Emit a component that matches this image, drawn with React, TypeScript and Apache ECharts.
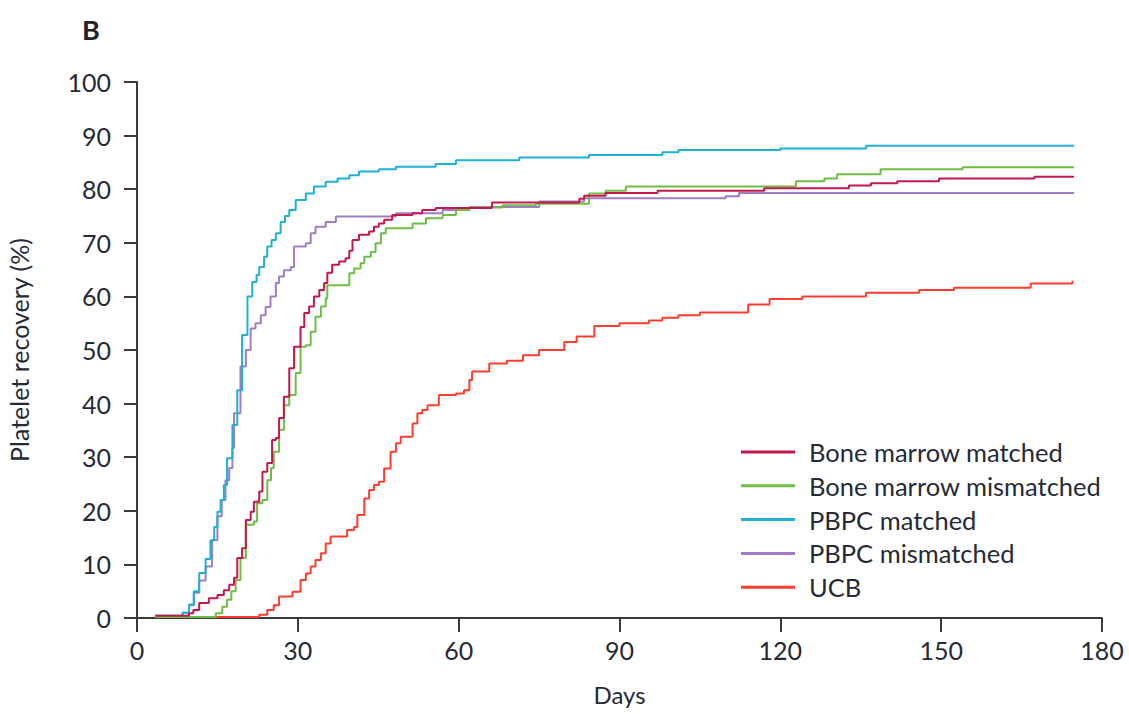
import React, { useEffect, useRef } from "react";
import * as echarts from "echarts";

const xTicks = [0, 30, 60, 90, 120, 150, 180];
const seriesNames = [
  "Bone marrow matched",
  "Bone marrow mismatched",
  "PBPC matched",
  "PBPC mismatched",
  "UCB",
];
const seriesColors = ["#c4184c", "#6fbe44", "#1fb0d5", "#a07cc5", "#ff3d2e"];

const boneMarrowMatched: [number, number][] = [
  [3.4, 0.4], [9.7, 0.9], [10.5, 1.5], [11.6, 2.8], [13.4, 3.7], [15, 4.3], [16.2, 5.2], [17.2, 6.2],
  [18.1, 7.5], [18.7, 11.2], [19.6, 13], [20.3, 18.3], [21.2, 19.8], [21.8, 21.7], [22.8, 23.6],
  [23.4, 27.3], [24.3, 28.9], [25.2, 33.2], [25.9, 33.6], [26.5, 37.3], [27.4, 41.3], [28.4, 46.6],
  [29.3, 50.6], [30.5, 54.3], [31.2, 56.9], [32.1, 58.1], [33, 60], [34, 61.2], [34.9, 62.5],
  [35.5, 64.4], [36.4, 65.9], [37.7, 66.5], [38.9, 67.1], [39.6, 68.5], [40.2, 70.5], [41.4, 71.5],
  [43.3, 72.1], [44.2, 73], [45.1, 73.6], [46.1, 74.3], [47.6, 75.2], [51.4, 75.5], [53.2, 76.1],
  [55.7, 76.5], [66.2, 77.5], [82.5, 78.2], [83.4, 78.8], [87.4, 79.3], [97.1, 79.7], [117, 80.2],
  [132.8, 80.7], [136.9, 81.1], [141.8, 81.5], [149.6, 82], [167.4, 82.3], [174.8, 82.3],
];

const boneMarrowMismatched: [number, number][] = [
  [3.4, 0.2], [14.7, 0.9], [15.9, 2.1], [16.8, 3.4], [17.6, 5], [18.4, 7.1], [19.3, 11.2],
  [20.3, 17.4], [21.8, 18], [22.4, 21.4], [23.4, 22], [24.3, 25.7], [25, 28], [25.5, 31],
  [26.5, 35.1], [27.4, 39.7], [28.4, 41.6], [29.6, 45.7], [30.5, 50.6], [31.5, 50.9], [32.4, 53.4],
  [33.3, 56.2], [34.3, 58.1], [35.2, 59.6], [35.5, 62.1], [39.6, 64.3], [40.5, 65.2], [41.7, 66.2],
  [42.4, 67.4], [43.6, 68.3], [44.5, 69.9], [45.5, 71.8], [46.4, 72.7], [51.4, 73.6], [53.9, 74.6],
  [57, 75.2], [59.5, 76.1], [62, 76.6], [68.2, 77], [74.4, 77.3], [84.3, 79.2], [87.4, 79.7],
  [91.2, 80.5], [122.9, 81.5], [128.2, 82], [130.6, 82.8], [138.7, 83.7], [154, 84.1], [174.8, 84.1],
];

const pbpcMatched: [number, number][] = [
  [3.4, 0.4], [8.5, 1], [9.7, 2.5], [10.6, 5], [11.6, 8.4], [12.8, 11], [13.7, 14.5], [14.4, 17],
  [15, 19.8], [15.6, 22], [16.2, 24.8], [16.8, 29.8], [17.8, 36], [18.7, 42.5], [19.6, 52.8],
  [20.6, 60], [21.5, 62.7], [22.3, 64], [22.8, 65.5], [23.7, 67.4], [24.3, 69.3], [25.1, 70.5],
  [25.9, 71.8], [26.8, 73.9], [27.6, 75], [28.4, 76.1], [29.6, 78], [31.5, 79.2], [33, 80.5],
  [35.2, 81.4], [37.4, 82], [39.6, 82.6], [41.4, 83.3], [45.1, 83.7], [48.3, 84.2], [55.7, 84.7],
  [59.5, 85.4], [71.3, 85.9], [84.3, 86.4], [98, 86.9], [101, 87.3], [120, 87.6], [136, 88.1],
  [174.8, 88.1],
];

const pbpcMismatched: [number, number][] = [
  [3.4, 0.4], [8.5, 1], [9.7, 2.4], [10.6, 4.7], [11.6, 7], [12.8, 9.6], [14, 14.5], [15, 19],
  [15.8, 22], [16.5, 25.7], [17.2, 28], [17.8, 31.7], [18.1, 38.2], [19.3, 46.9], [20.3, 50],
  [21.2, 54], [22.1, 55], [23.1, 56.5], [24, 58], [24.9, 60], [25.9, 62.5], [26.5, 63.7],
  [27.4, 64.9], [28.7, 65.5], [29.3, 69.3], [31.5, 69.9], [32.4, 71.8], [33.3, 73], [35.2, 73.9],
  [37.1, 74.9], [48.3, 75.5], [57, 76.1], [62, 76.7], [75, 77.7], [83.4, 78.3], [109.8, 78.7],
  [112.3, 79.3], [174.8, 79.3],
];

const ucb: [number, number][] = [
  [3.4, 0.2], [22.8, 0.6], [24.3, 1.5], [25.5, 2.4], [26.5, 4], [29, 4.9], [30.5, 7.1], [31.5, 8.3],
  [32.4, 9.6], [33.3, 10.8], [34.3, 12.1], [35.2, 13.9], [36.1, 15.2], [39.2, 16.4], [40.5, 17],
  [41.1, 19.2], [42.4, 22.3], [43.3, 23.9], [44.2, 24.8], [45.1, 25.4], [46.1, 27.9], [47.3, 31],
  [48.3, 32.6], [49.2, 33.8], [51.4, 36.3], [52.3, 38.2], [53.2, 38.8], [54.2, 39.7], [56.3, 41.6],
  [59.5, 41.9], [61, 42.5], [62, 44.4], [62.5, 46], [65.7, 47.5], [69, 48], [72, 49], [75, 50],
  [79.7, 51.5], [82, 52.5], [85.3, 54.5], [90, 55], [95.5, 55.5], [98, 56], [101, 56.5], [105, 57],
  [114, 58.5], [118, 59.5], [124.1, 60], [136, 60.7], [145.9, 61.2], [152.4, 61.6], [166.7, 62.4],
  [174.5, 62.9],
];

const seriesData = [boneMarrowMatched, boneMarrowMismatched, pbpcMatched, pbpcMismatched, ucb];

const FONT = "Lato, 'Open Sans', sans-serif";
const TEXT = "#262a36";

export default function App() {
  const ref = useRef<HTMLDivElement>(null);
  useEffect(() => {
    if (!ref.current) return;
    const chart = echarts.init(ref.current, undefined, { renderer: "svg" });
    chart.setOption({
      animation: false,
      backgroundColor: "#ffffff",
      grid: {
        left: 137,
        right: 27,
        top: 82,
        bottom: 96,
        containLabel: false,
        outerBoundsMode: "none",
      },
      graphic: [
        {
          type: "text",
          left: 82,
          top: 16,
          style: { text: "B", font: `bold 27px ${FONT}`, fill: "#222" },
        },
      ],
      legend: {
        orient: "vertical",
        left: 736,
        top: 434,
        itemWidth: 54,
        itemHeight: 3,
        itemGap: 7.8,
        icon: "rect",
        data: seriesNames,
        textStyle: {
          fontFamily: FONT,
          fontSize: 25.5,
          color: TEXT,
          padding: [0, 0, 0, 9],
        },
      },
      xAxis: {
        type: "value",
        min: 0,
        max: 180,
        interval: 30,
        name: "Days",
        nameLocation: "middle",
        nameGap: 64,
        nameTextStyle: { fontFamily: FONT, fontSize: 24, color: TEXT },
        axisLine: { show: true, lineStyle: { color: "#3a3a3a", width: 2 } },
        axisTick: { show: true, length: 14, lineStyle: { color: "#3a3a3a", width: 2 } },
        axisLabel: {
          fontFamily: FONT,
          fontSize: 25,
          color: TEXT,
          margin: 19,
          formatter: (v: number) => (xTicks.includes(v) ? String(v) : ""),
        },
        splitLine: { show: false },
      },
      yAxis: {
        type: "value",
        min: 0,
        max: 100,
        interval: 10,
        name: "Platelet recovery (%)",
        nameLocation: "middle",
        nameGap: 106,
        nameTextStyle: { fontFamily: FONT, fontSize: 25, color: TEXT },
        axisLine: { show: true, lineStyle: { color: "#3a3a3a", width: 2 } },
        axisTick: { show: true, length: 13, lineStyle: { color: "#3a3a3a", width: 2 } },
        axisLabel: { fontFamily: FONT, fontSize: 25, color: TEXT, margin: 26 },
        splitLine: { show: false },
      },
      series: seriesNames.map((name, i) => ({
        name,
        type: "line",
        step: "end",
        data: seriesData[i],
        showSymbol: false,
        symbol: "none",
        color: seriesColors[i],
        lineStyle: { width: 2, color: seriesColors[i] },
        itemStyle: { color: seriesColors[i] },
        z: 10 - i,
      })),
    });
    return () => chart.dispose();
  }, []);
  return (
    <div
      ref={ref}
      style={{ position: "absolute", left: 0, top: 0, width: 1129, height: 714 }}
    />
  );
}
